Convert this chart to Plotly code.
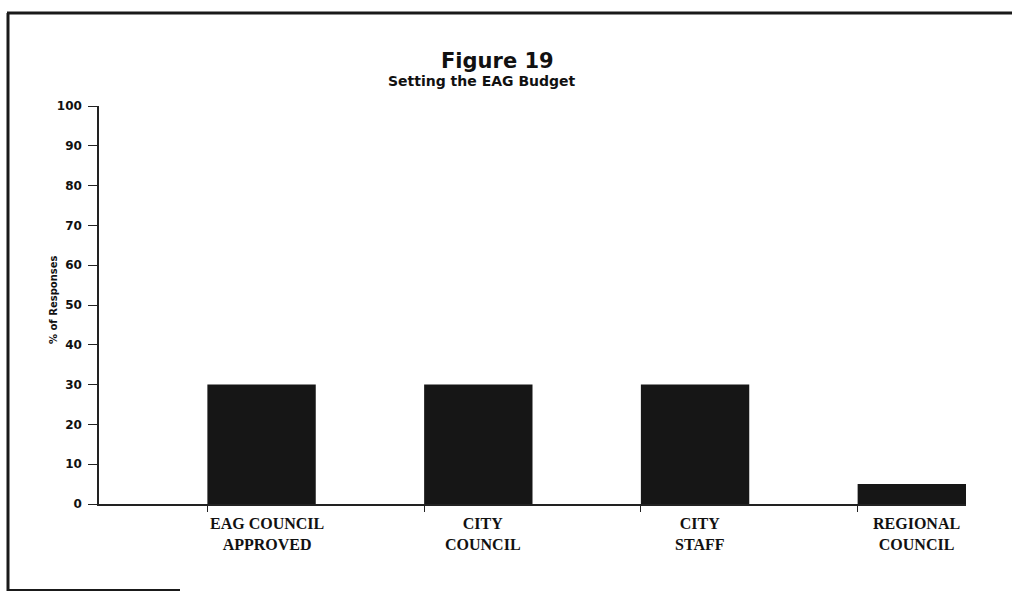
import plotly.graph_objects as go

# Survey results: who sets the EAG budget
categories = ["EAG COUNCIL<br>APPROVED", "CITY<br>COUNCIL", "CITY<br>STAFF", "REGIONAL<br>COUNCIL"]
percent = [30, 30, 30, 5]
y_ticks = [0, 10, 20, 30, 40, 50, 60, 70, 80, 90, 100]

W, H = 1012, 592
L, R, T, B = 99, 46, 106, 88
PW, PH = W - L - R, H - T - B


def px(x):
    return (x - L) / PW


def py(y):
    return (H - B - y) / PH


positions = list(range(len(categories)))

fig = go.Figure(
    go.Bar(
        x=positions,
        y=percent,
        offset=0,
        width=0.5,
        marker=dict(color="#161616", line=dict(width=0)),
        hoverinfo="skip",
    )
)

# category labels under each bar
annotations = [
    dict(
        x=p + 0.25, y=0, xref="x", yref="y", yanchor="top", xanchor="center",
        yshift=-9, xshift=5, text=f"<b>{lab}</b>", showarrow=False, align="center",
        font=dict(family="Liberation Serif", size=16, color="#111"),
    )
    for p, lab in zip(positions, categories)
]
annotations += [
    dict(x=px(497), y=py(61), xref="paper", yref="paper", text="<b>Figure 19</b>",
         showarrow=False, xanchor="center", yanchor="middle",
         font=dict(family="DejaVu Sans", size=21, color="#111")),
    dict(x=px(482), y=py(81), xref="paper", yref="paper", text="<b>Setting the EAG Budget</b>",
         showarrow=False, xanchor="center", yanchor="middle",
         font=dict(family="DejaVu Sans", size=14, color="#111")),
    dict(x=px(53), y=py(300), xref="paper", yref="paper", text="<b>% of Responses</b>",
         showarrow=False, xanchor="center", yanchor="middle", textangle=-90,
         font=dict(family="DejaVu Sans", size=10, color="#111")),
]

# page frame
frame = [
    dict(x0=px(7), x1=px(1012), y0=py(13), y1=py(13), w=3),
    dict(x0=px(8), x1=px(8), y0=py(13), y1=py(591), w=3),
    dict(x0=px(8), x1=px(180), y0=py(590), y1=py(590), w=2),
]
shapes = [
    dict(type="line", xref="paper", yref="paper", x0=f["x0"], x1=f["x1"],
         y0=f["y0"], y1=f["y1"], line=dict(color="#1a1a1a", width=f["w"]))
    for f in frame
]

fig.update_layout(
    width=W, height=H,
    margin=dict(l=L, r=R, t=T, b=B, pad=0),
    paper_bgcolor="white", plot_bgcolor="white",
    showlegend=False,
    annotations=annotations,
    shapes=shapes,
    xaxis=dict(
        range=[-0.5, 3.5], tickvals=positions, ticktext=[""] * len(positions),
        ticks="outside", ticklen=6, tickwidth=1, tickcolor="#222",
        showline=True, linecolor="#222", linewidth=1.5,
        showgrid=False, zeroline=False, fixedrange=True,
    ),
    yaxis=dict(
        range=[0, 100], tickvals=y_ticks, ticks="outside", ticklen=9,
        tickwidth=1, tickcolor="#222", ticklabelstandoff=4,
        tickfont=dict(family="DejaVu Sans", size=12, color="#111", weight="bold"),
        showline=True, linecolor="#222", linewidth=1.5,
        showgrid=False, zeroline=False, fixedrange=True,
    ),
)

fig.write_html("out.html")
